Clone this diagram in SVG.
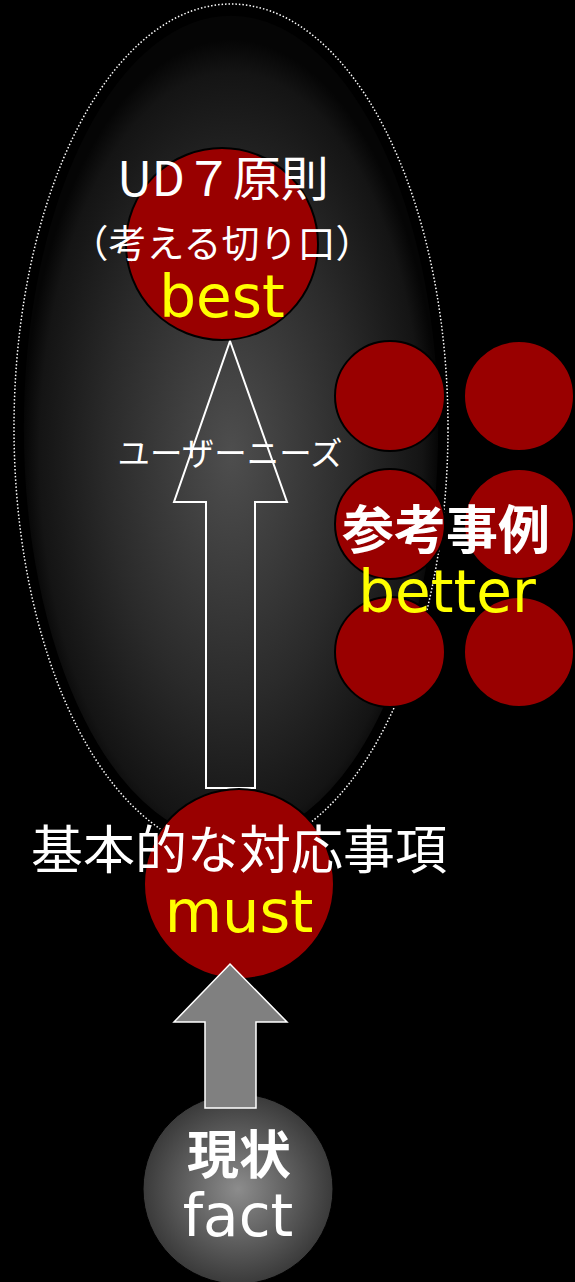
<svg xmlns="http://www.w3.org/2000/svg" width="575" height="1282" viewBox="0 0 575 1282">
<defs>
<radialGradient id="gBig" cx="0.5" cy="0.53" r="0.5">
<stop offset="0" stop-color="#4e4e4e"/>
<stop offset="0.6" stop-color="#2a2a2a"/>
<stop offset="0.92" stop-color="#141414"/>
<stop offset="1" stop-color="#050505"/>
</radialGradient>
<radialGradient id="gFact" cx="0.5" cy="0.5" r="0.5">
<stop offset="0" stop-color="#8c8c8c"/>
<stop offset="1" stop-color="#3a3a3a"/>
</radialGradient>
</defs>
<style>
.red{fill:#990000;stroke:#000;stroke-width:2}
.jp{font-family:"Noto Sans CJK JP","Noto Sans",sans-serif;fill:#fff;text-anchor:middle}
.en{font-family:"DejaVu Sans","Noto Sans",sans-serif;fill:#ffff00;text-anchor:middle}
</style>
<rect x="0" y="0" width="575" height="1282" fill="#000"/>
<g id="region">
<ellipse cx="231" cy="428" rx="208" ry="413" fill="url(#gBig)" stroke="#000" stroke-width="1.5"/>
<ellipse cx="231" cy="428" rx="217" ry="424" fill="none" stroke="#fff" stroke-width="1.5" stroke-dasharray="1.5,2"/>
</g>
<g id="examples">
<circle class="red" cx="390" cy="396" r="55"/>
<circle class="red" cx="519" cy="396" r="55"/>
<circle class="red" cx="390" cy="524" r="55"/>
<circle class="red" cx="519" cy="524" r="55"/>
<circle class="red" cx="390" cy="652" r="55"/>
<circle class="red" cx="519" cy="652" r="55"/>
<text class="jp" x="446" y="549" font-size="52" font-weight="bold">参考事例</text>
<text class="en" x="447" y="612" font-size="58">better</text>
</g>
<g id="connectors">
<path d="M230,341 L287,502 L255,502 L255,788 L206,788 L206,502 L174,502 Z" fill="none" stroke="#fff" stroke-width="2"/>
<text class="jp" x="230" y="465" font-size="32" textLength="225" lengthAdjust="spacingAndGlyphs">ユーザーニーズ</text>
</g>
<g id="ud7">
<circle class="red" cx="222" cy="244" r="96"/>
<text class="jp" x="223" y="196" font-size="48">UD７原則</text>
<text class="jp" x="222" y="257" font-size="38">（考える切り口）</text>
<text class="en" x="222" y="317" font-size="58">best</text>
</g>
<g id="must">
<circle class="red" cx="239" cy="884" r="95"/>
<text class="jp" x="239" y="869" font-size="52">基本的な対応事項</text>
<text class="en" x="239" y="932" font-size="59">must</text>
</g>
<g id="fact">
<circle cx="238" cy="1189" r="95" fill="url(#gFact)" stroke="#000" stroke-width="1"/>
<text class="jp" x="239" y="1174" font-size="52" font-weight="bold">現状</text>
<text class="en" x="238" y="1236" font-size="58" style="fill:#fff">fact</text>
</g>
<g id="connector2">
<path d="M230,964 L287,1022 L256,1022 L256,1108 L205,1108 L205,1022 L174,1022 Z" fill="#808080" stroke="#fff" stroke-width="1.5"/>
</g>
</svg>
